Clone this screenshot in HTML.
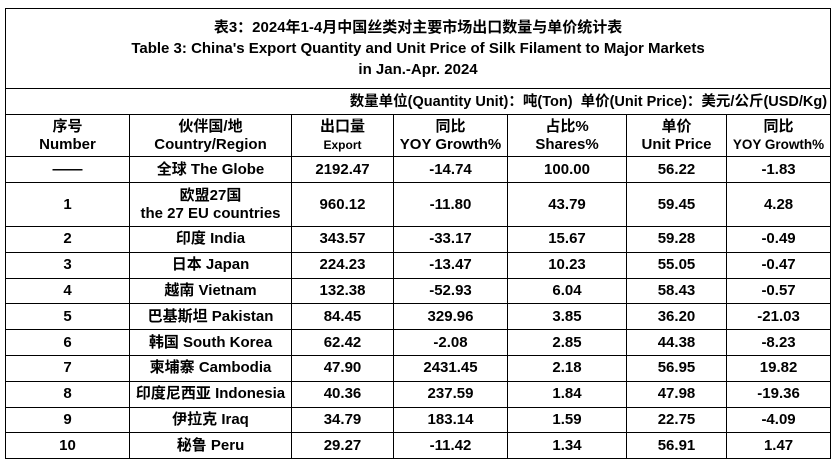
<!DOCTYPE html>
<html><head><meta charset="utf-8"><style>
body{margin:0;background:#fff;width:838px;height:467px;overflow:hidden;font-family:"Liberation Sans","Noto Sans CJK SC",sans-serif;font-weight:bold;color:#000}
table{position:absolute;left:5px;top:8px;border-collapse:collapse;table-layout:fixed;width:825px}
td{border:1.3px solid #000;text-align:center;padding:0;font-size:15px;line-height:18px;white-space:nowrap;overflow:hidden}
.title{font-size:15px;line-height:21px;border-bottom:1.3px solid #000}
.unit{text-align:right;padding-right:3px;font-size:14.5px}
.small{font-size:12px}
</style></head><body>
<table>
<colgroup><col style="width:124px"><col style="width:162px"><col style="width:102px"><col style="width:114px"><col style="width:119px"><col style="width:100px"><col style="width:104px"></colgroup>
<tr style="height:80px"><td colspan="7" class="title">表3：2024年1-4月中国丝类对主要市场出口数量与单价统计表<br>Table 3: China's Export Quantity and Unit Price of Silk Filament to Major Markets<br>in Jan.-Apr. 2024</td></tr>
<tr style="height:26px"><td colspan="7" class="unit" style="border-top:none">数量单位(Quantity Unit)：吨(Ton)&nbsp; 单价(Unit Price)：美元/公斤(USD/Kg)</td></tr>
<tr style="height:42px">
<td>序号<br>Number</td>
<td>伙伴国/地<br>Country/Region</td>
<td>出口量<br><span class="small">Export</span></td>
<td>同比<br>YOY Growth%</td>
<td>占比%<br>Shares%</td>
<td>单价<br>Unit Price</td>
<td>同比<br><span style="font-size:13.5px">YOY Growth%</span></td>
</tr>
<tbody id="body"></tbody>
</table>
<script>
const nums=["——","1","2","3","4","5","6","7","8","9","10"];
const countries=["全球 The Globe","欧盟27国<br>the 27 EU countries","印度 India","日本 Japan","越南 Vietnam","巴基斯坦 Pakistan","韩国 South Korea","柬埔寨 Cambodia","印度尼西亚 Indonesia","伊拉克 Iraq","秘鲁 Peru"];
const exportQty=["2192.47","960.12","343.57","224.23","132.38","84.45","62.42","47.90","40.36","34.79","29.27"];
const yoy=["-14.74","-11.80","-33.17","-13.47","-52.93","329.96","-2.08","2431.45","237.59","183.14","-11.42"];
const shares=["100.00","43.79","15.67","10.23","6.04","3.85","2.85","2.18","1.84","1.59","1.34"];
const price=["56.22","59.45","59.28","55.05","58.43","36.20","44.38","56.95","47.98","22.75","56.91"];
const priceYoy=["-1.83","4.28","-0.49","-0.47","-0.57","-21.03","-8.23","19.82","-19.36","-4.09","1.47"];
const names=["number","country","export","yoy","shares","unit-price","price-yoy"];
const body=document.getElementById('body');
for(let i=0;i<nums.length;i++){
 const tr=document.createElement('tr');
 
 
 tr.style.height=(i==1?44:(i==0?26:25.8))+'px';
 const vals=[nums[i],countries[i],exportQty[i],yoy[i],shares[i],price[i],priceYoy[i]];
 vals.forEach((v,j)=>{const td=document.createElement('td');td.innerHTML=v;
 
 
 tr.appendChild(td);});
 body.appendChild(tr);
}
</script>
</body></html>
